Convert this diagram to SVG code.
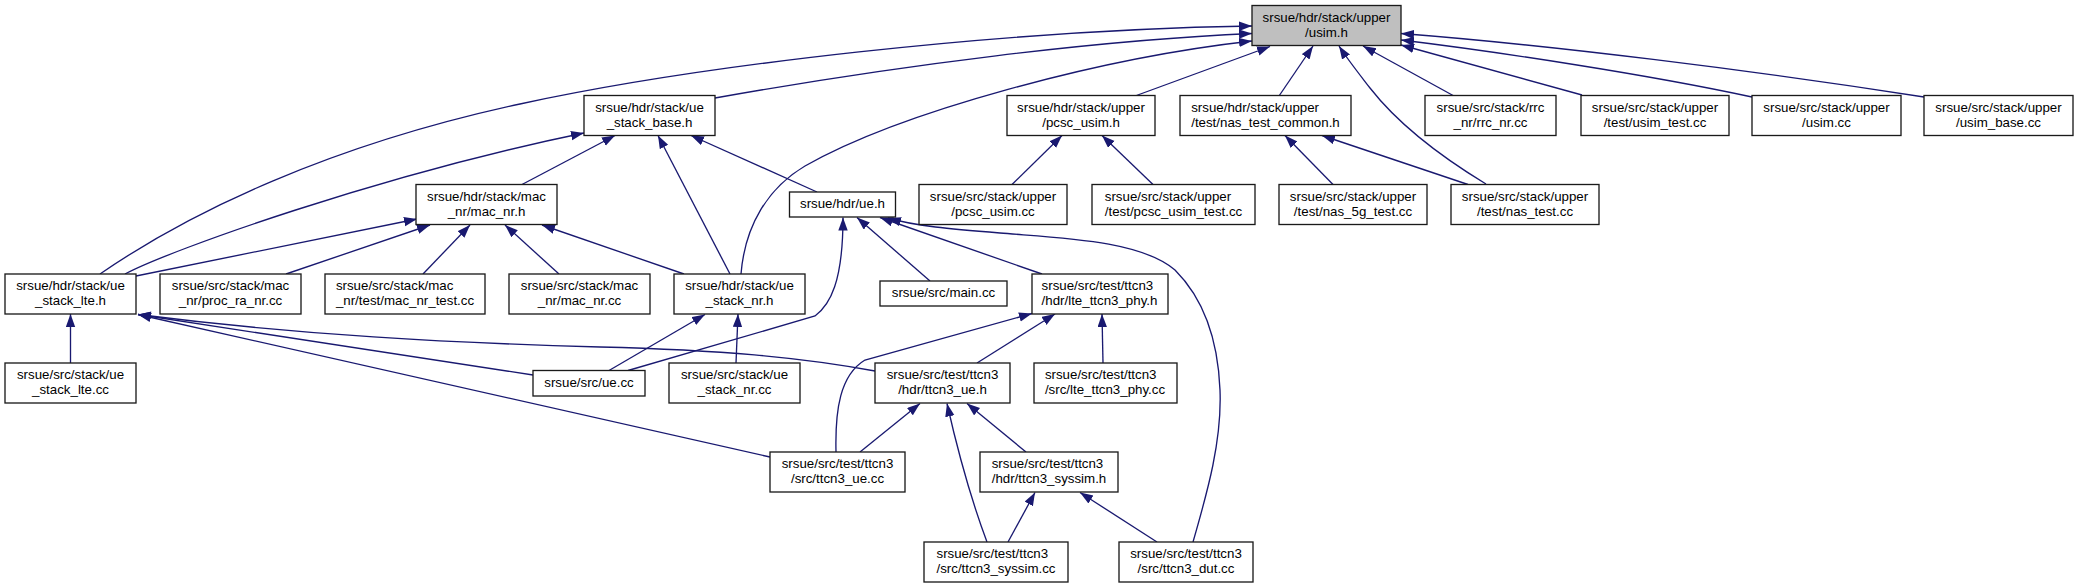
<svg xmlns="http://www.w3.org/2000/svg" width="2078" height="588" viewBox="0 0 2078 588">
<style>
.node rect{fill:#ffffff;stroke:#1a1a1a;stroke-width:1.33}
.node rect.hl{fill:#bfbfbf}
text{font-family:"Liberation Sans",Arial,Helvetica,sans-serif;font-size:13.3px;fill:#000000}
.c{text-anchor:middle}
.l{text-anchor:start}
.e path{fill:none;stroke:#191970;stroke-width:1.33;marker-end:url(#arr)}
</style>
<defs>
<marker id="arr" markerUnits="userSpaceOnUse" markerWidth="15" markerHeight="11" refX="13" refY="4.7" orient="auto">
<path d="M0,0 L13,4.7 L0,9.4 Z" fill="#191970" stroke="none"/>
</marker>
</defs>
<rect x="0" y="0" width="2078" height="588" fill="#ffffff"/>
<g id="edges" class="e">
<path d="M100,274 C190,212 330,145 520,104 C700,65 1000,30 1252,26"/>
<path d="M715,98 C900,65 1100,40 1252,33.5"/>
<path d="M741,274 C745,225 768,188 805,166 C900,112 1100,58 1252,41"/>
<path d="M1135,96 L1270,46.5"/>
<path d="M1279,96 L1313,46"/>
<path d="M1486,184 C1430,150 1395,120 1370,88 C1360,75 1348,60 1339,46"/>
<path d="M1454,96 L1363,46"/>
<path d="M1582,95 L1401,45"/>
<path d="M1752,97 C1650,75 1500,52 1401,40"/>
<path d="M1924,97 C1750,70 1550,45 1401,33.5"/>
<path d="M125,274 C170,250 380,175 584,133"/>
<path d="M522,184.5 L615,135.5"/>
<path d="M730,274 L658,135.5"/>
<path d="M817,192 L691,135.5"/>
<path d="M136,276 L417,219"/>
<path d="M286,274 L430,225"/>
<path d="M423,274 L470,225"/>
<path d="M559,274 L505,225"/>
<path d="M684,274 L542,225"/>
<path d="M1012,184.5 L1062,135.5"/>
<path d="M1153,184.5 L1102,135.5"/>
<path d="M1333,184.5 L1285,135.5"/>
<path d="M1468,184.5 L1322,135.5"/>
<path d="M628,370.5 L815,316 C830,305 843,282 843,217.5"/>
<path d="M930,281 L857,217.5"/>
<path d="M1042,274 L880,217.5"/>
<path d="M1193,542 C1208,490 1222,440 1220,390 C1218,340 1205,300 1175,270 C1140,240 1060,238 1000,233 C950,229 915,226 888,218"/>
<path d="M609,370.5 L705,314.5"/>
<path d="M736,363 L738,314"/>
<path d="M70.5,363 L70.5,314"/>
<path d="M533,375 L138,314.5"/>
<path d="M875,371 C800,357 720,350 600,347 C450,343 300,335 138,314.5"/>
<path d="M770,457 L138,314.5"/>
<path d="M860,452 L920,403.5"/>
<path d="M987,542 C975,510 962,470 947,403.5"/>
<path d="M1026,452 L967,403.5"/>
<path d="M836,452 C835,410 840,375 865,360 L1032,313.5"/>
<path d="M977,363 L1055,314"/>
<path d="M1103,363 L1102,314"/>
<path d="M1008,542 L1035,492.5"/>
<path d="M1157,542 L1080,492.5"/>
</g>
<g id="n_usim_h" class="node"><rect class="hl" x="1252" y="5.5" width="149" height="40"/><text class="c" x="1326.5" y="21.5">srsue/hdr/stack/upper</text><text class="c" x="1326.5" y="36.5">/usim.h</text></g>
<g id="n_ue_stack_base_h" class="node"><rect x="584" y="95.5" width="131" height="40"/><text class="c" x="649.5" y="111.5">srsue/hdr/stack/ue</text><text class="c" x="649.5" y="126.5">_stack_base.h</text></g>
<g id="n_pcsc_usim_h" class="node"><rect x="1007" y="95.5" width="148" height="40"/><text class="c" x="1081" y="111.5">srsue/hdr/stack/upper</text><text class="c" x="1081" y="126.5">/pcsc_usim.h</text></g>
<g id="n_nas_test_common_h" class="node"><rect x="1180" y="95.5" width="171" height="40"/><text class="l" x="1191.2" y="111.5">srsue/hdr/stack/upper</text><text class="l" x="1191.2" y="126.5">/test/nas_test_common.h</text></g>
<g id="n_rrc_nr_cc" class="node"><rect x="1425" y="95.5" width="131" height="40"/><text class="c" x="1490.5" y="111.5">srsue/src/stack/rrc</text><text class="c" x="1490.5" y="126.5">_nr/rrc_nr.cc</text></g>
<g id="n_usim_test_cc" class="node"><rect x="1581" y="95.5" width="148" height="40"/><text class="c" x="1655" y="111.5">srsue/src/stack/upper</text><text class="c" x="1655" y="126.5">/test/usim_test.cc</text></g>
<g id="n_usim_cc" class="node"><rect x="1752" y="95.5" width="149" height="40"/><text class="c" x="1826.5" y="111.5">srsue/src/stack/upper</text><text class="c" x="1826.5" y="126.5">/usim.cc</text></g>
<g id="n_usim_base_cc" class="node"><rect x="1924" y="95.5" width="149" height="40"/><text class="c" x="1998.5" y="111.5">srsue/src/stack/upper</text><text class="c" x="1998.5" y="126.5">/usim_base.cc</text></g>
<g id="n_mac_nr_h" class="node"><rect x="416" y="184.5" width="141" height="40"/><text class="c" x="486.5" y="200.5">srsue/hdr/stack/mac</text><text class="c" x="486.5" y="215.5">_nr/mac_nr.h</text></g>
<g id="n_ue_h" class="node"><rect x="789.5" y="192" width="106" height="25"/><text class="c" x="842.5" y="208">srsue/hdr/ue.h</text></g>
<g id="n_pcsc_usim_cc" class="node"><rect x="919" y="184.5" width="148" height="40"/><text class="c" x="993" y="200.5">srsue/src/stack/upper</text><text class="c" x="993" y="215.5">/pcsc_usim.cc</text></g>
<g id="n_pcsc_usim_test_cc" class="node"><rect x="1092" y="184.5" width="163" height="40"/><text class="l" x="1104.8" y="200.5">srsue/src/stack/upper</text><text class="l" x="1104.8" y="215.5">/test/pcsc_usim_test.cc</text></g>
<g id="n_nas_5g_test_cc" class="node"><rect x="1279" y="184.5" width="148" height="40"/><text class="c" x="1353" y="200.5">srsue/src/stack/upper</text><text class="c" x="1353" y="215.5">/test/nas_5g_test.cc</text></g>
<g id="n_nas_test_cc" class="node"><rect x="1451" y="184.5" width="148" height="40"/><text class="c" x="1525" y="200.5">srsue/src/stack/upper</text><text class="c" x="1525" y="215.5">/test/nas_test.cc</text></g>
<g id="n_ue_stack_lte_h" class="node"><rect x="5" y="274" width="131" height="40"/><text class="c" x="70.5" y="290">srsue/hdr/stack/ue</text><text class="c" x="70.5" y="305">_stack_lte.h</text></g>
<g id="n_proc_ra_nr_cc" class="node"><rect x="160" y="274" width="141" height="40"/><text class="c" x="230.5" y="290">srsue/src/stack/mac</text><text class="c" x="230.5" y="305">_nr/proc_ra_nr.cc</text></g>
<g id="n_mac_nr_test_cc" class="node"><rect x="325" y="274" width="160" height="40"/><text class="l" x="335.9" y="290">srsue/src/stack/mac</text><text class="l" x="335.9" y="305">_nr/test/mac_nr_test.cc</text></g>
<g id="n_mac_nr_cc" class="node"><rect x="509" y="274" width="141" height="40"/><text class="c" x="579.5" y="290">srsue/src/stack/mac</text><text class="c" x="579.5" y="305">_nr/mac_nr.cc</text></g>
<g id="n_ue_stack_nr_h" class="node"><rect x="674" y="274" width="131" height="40"/><text class="c" x="739.5" y="290">srsue/hdr/stack/ue</text><text class="c" x="739.5" y="305">_stack_nr.h</text></g>
<g id="n_main_cc" class="node"><rect x="880" y="281" width="127" height="25"/><text class="c" x="943.5" y="297">srsue/src/main.cc</text></g>
<g id="n_lte_ttcn3_phy_h" class="node"><rect x="1032" y="274" width="136" height="40"/><text class="l" x="1041.6" y="290">srsue/src/test/ttcn3</text><text class="l" x="1041.6" y="305">/hdr/lte_ttcn3_phy.h</text></g>
<g id="n_ue_stack_lte_cc" class="node"><rect x="5" y="363" width="131" height="40"/><text class="c" x="70.5" y="379">srsue/src/stack/ue</text><text class="c" x="70.5" y="394">_stack_lte.cc</text></g>
<g id="n_ue_cc" class="node"><rect x="533" y="370.5" width="112" height="25.5"/><text class="c" x="589" y="387">srsue/src/ue.cc</text></g>
<g id="n_ue_stack_nr_cc" class="node"><rect x="669" y="363" width="131" height="40"/><text class="c" x="734.5" y="379">srsue/src/stack/ue</text><text class="c" x="734.5" y="394">_stack_nr.cc</text></g>
<g id="n_ttcn3_ue_h" class="node"><rect x="875" y="363" width="135" height="40"/><text class="c" x="942.5" y="379">srsue/src/test/ttcn3</text><text class="c" x="942.5" y="394">/hdr/ttcn3_ue.h</text></g>
<g id="n_lte_ttcn3_phy_cc" class="node"><rect x="1034" y="363" width="143" height="40"/><text class="l" x="1044.9" y="379">srsue/src/test/ttcn3</text><text class="l" x="1044.9" y="394">/src/lte_ttcn3_phy.cc</text></g>
<g id="n_ttcn3_ue_cc" class="node"><rect x="770" y="452" width="135" height="40"/><text class="c" x="837.5" y="468">srsue/src/test/ttcn3</text><text class="c" x="837.5" y="483">/src/ttcn3_ue.cc</text></g>
<g id="n_ttcn3_syssim_h" class="node"><rect x="980" y="452" width="138" height="40"/><text class="l" x="991.7" y="468">srsue/src/test/ttcn3</text><text class="l" x="991.7" y="483">/hdr/ttcn3_syssim.h</text></g>
<g id="n_ttcn3_syssim_cc" class="node"><rect x="924" y="542" width="144" height="40"/><text class="l" x="936.5" y="558">srsue/src/test/ttcn3</text><text class="l" x="936.5" y="573">/src/ttcn3_syssim.cc</text></g>
<g id="n_ttcn3_dut_cc" class="node"><rect x="1119" y="542" width="134" height="40"/><text class="c" x="1186" y="558">srsue/src/test/ttcn3</text><text class="c" x="1186" y="573">/src/ttcn3_dut.cc</text></g>
</svg>
